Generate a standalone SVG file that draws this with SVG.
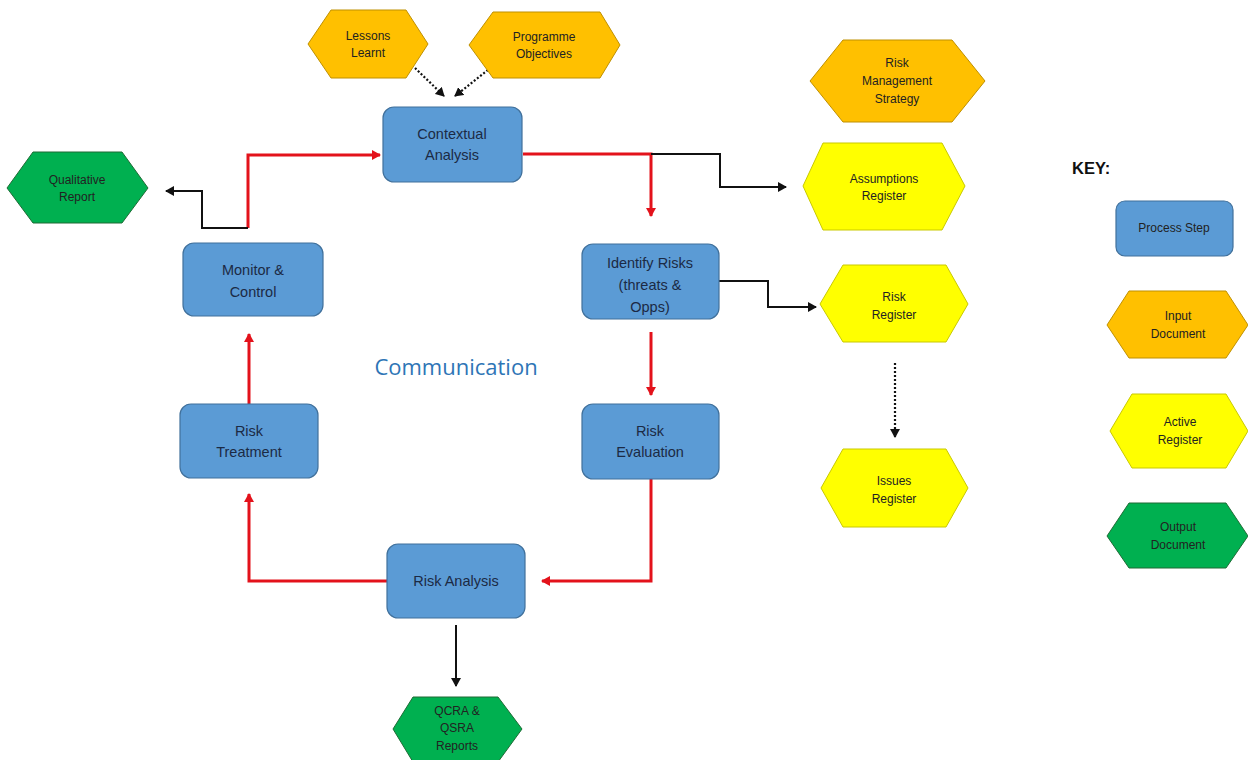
<svg xmlns="http://www.w3.org/2000/svg" width="1248" height="760" viewBox="0 0 1248 760">
<style>
.box{fill:#5B9BD5;stroke:#41719C;stroke-width:1.2}
.inp{fill:#FFC000;stroke:#BF9000;stroke-width:1}
.act{fill:#FFFF00;stroke:#C9C900;stroke-width:1}
.out{fill:#00B050;stroke:#1E6B35;stroke-width:1}
.bt{font-family:"Liberation Sans",Arial,sans-serif;font-size:14.5px;fill:#1B2A44;text-anchor:middle}
.ht{font-family:"Liberation Sans",Arial,sans-serif;font-size:12px;fill:#222;text-anchor:middle}
.red{fill:none;stroke:#E3121B;stroke-width:3}
.blk{fill:none;stroke:#111;stroke-width:2}
.dot{fill:none;stroke:#111;stroke-width:2.2;stroke-dasharray:2 2}
</style>
<defs>
<marker id="ar" markerWidth="10" markerHeight="10" refX="8" refY="5" orient="auto" markerUnits="userSpaceOnUse"><path d="M0,0 L9,5 L0,10 z" fill="#E3121B"/></marker>
<marker id="ab" markerWidth="10" markerHeight="10" refX="8" refY="5" orient="auto" markerUnits="userSpaceOnUse"><path d="M0,0 L9,5 L0,10 z" fill="#111"/></marker>
</defs>
<rect width="1248" height="760" fill="#fff"/>

<g id="connectors">
<path class="dot" d="M415,68 L444,96" marker-end="url(#ab)"/>
<path class="dot" d="M488,70 L455,96" marker-end="url(#ab)"/>
<path class="red" d="M248,228 L248,155 L380,155" marker-end="url(#ar)"/>
<path class="blk" d="M248,228 L202,228 L202,191 L166,191" marker-end="url(#ab)"/>
<path class="red" d="M523,154 L651,154 L651,216" marker-end="url(#ar)"/>
<path class="blk" d="M651,154 L720,154 L720,187 L786,187" marker-end="url(#ab)"/>
<path class="blk" d="M719,281 L768,281 L768,307 L816,307" marker-end="url(#ab)"/>
<path class="dot" d="M895,363 L895,437" marker-end="url(#ab)"/>
<path class="red" d="M651,332 L651,395" marker-end="url(#ar)"/>
<path class="red" d="M651,479 L651,581 L542,581" marker-end="url(#ar)"/>
<path class="red" d="M387,581 L249,581 L249,494" marker-end="url(#ar)"/>
<path class="red" d="M249,404 L249,334" marker-end="url(#ar)"/>
<path class="blk" d="M456,625 L456,686" marker-end="url(#ab)"/>
</g>

<g id="lessons-learnt"><polygon class="inp" points="308,44 331,10 406,10 428,44 406,78 331,78"/><text class="ht" x="368" y="40">Lessons</text><text class="ht" x="368" y="57">Learnt</text></g>
<g id="programme-objectives"><polygon class="inp" points="469,45 493,12 600,12 620,45 600,78 493,78"/><text class="ht" x="544" y="41">Programme</text><text class="ht" x="544" y="58">Objectives</text></g>
<g id="contextual-analysis"><rect class="box" x="383" y="107" width="139" height="75" rx="11"/><text class="bt" x="452" y="139">Contextual</text><text class="bt" x="452" y="160">Analysis</text></g>
<g id="risk-management-strategy"><polygon class="inp" points="810,81 843,40 952,40 985,81 952,122 843,122"/><text class="ht" x="897" y="67">Risk</text><text class="ht" x="897" y="85">Management</text><text class="ht" x="897" y="103">Strategy</text></g>
<g id="qualitative-report"><polygon class="out" points="7,188 33,152 122,152 148,188 122,223 33,223"/><text class="ht" x="77" y="184">Qualitative</text><text class="ht" x="77" y="201">Report</text></g>
<g id="monitor-control"><rect class="box" x="183" y="243" width="140" height="73" rx="11"/><text class="bt" x="253" y="275">Monitor &amp;</text><text class="bt" x="253" y="297">Control</text></g>
<g id="assumptions-register"><polygon class="act" points="803,186 823,143 942,143 965,186 942,230 823,230"/><text class="ht" x="884" y="183">Assumptions</text><text class="ht" x="884" y="200">Register</text></g>
<g id="identify-risks"><rect class="box" x="582" y="244" width="137" height="75" rx="11"/><text class="bt" x="650" y="268">Identify Risks</text><text class="bt" x="650" y="290">(threats &amp;</text><text class="bt" x="650" y="312">Opps)</text></g>
<g id="risk-register"><polygon class="act" points="820,304 843,265 946,265 968,304 946,342 843,342"/><text class="ht" x="894" y="301">Risk</text><text class="ht" x="894" y="319">Register</text></g>
<text id="communication" x="456" y="375" font-family="'Open Sans','Liberation Sans',sans-serif" font-size="22" fill="#2E75B6" text-anchor="middle">Communication</text>
<g id="risk-treatment"><rect class="box" x="180" y="404" width="138" height="74" rx="11"/><text class="bt" x="249" y="436">Risk</text><text class="bt" x="249" y="457">Treatment</text></g>
<g id="risk-evaluation"><rect class="box" x="582" y="404" width="137" height="75" rx="11"/><text class="bt" x="650" y="436">Risk</text><text class="bt" x="650" y="457">Evaluation</text></g>
<g id="issues-register"><polygon class="act" points="821,488 843,449 946,449 968,488 946,527 843,527"/><text class="ht" x="894" y="485">Issues</text><text class="ht" x="894" y="503">Register</text></g>
<g id="risk-analysis"><rect class="box" x="387" y="544" width="138" height="74" rx="11"/><text class="bt" x="456" y="586">Risk Analysis</text></g>
<g id="qcra-qsra"><polygon class="out" points="393,729 413,697 498,697 522,729 498,762 413,762"/><text class="ht" x="457" y="715">QCRA &amp;</text><text class="ht" x="457" y="732">QSRA</text><text class="ht" x="457" y="750">Reports</text></g>

<g id="key">
<text x="1072" y="174" font-family="'Liberation Sans',Arial,sans-serif" font-size="16.5" font-weight="bold" fill="#111">KEY:</text>
<g id="key-process"><rect class="box" x="1116" y="201" width="117" height="55" rx="9"/><text class="ht" x="1174" y="232">Process Step</text></g>
<g id="key-input"><polygon class="inp" points="1107,325 1129,291 1226,291 1248,325 1226,358 1129,358"/><text class="ht" x="1178" y="320">Input</text><text class="ht" x="1178" y="338">Document</text></g>
<g id="key-active"><polygon class="act" points="1110,431 1132,394 1226,394 1248,431 1226,468 1132,468"/><text class="ht" x="1180" y="426">Active</text><text class="ht" x="1180" y="444">Register</text></g>
<g id="key-output"><polygon class="out" points="1107,536 1129,503 1226,503 1248,536 1226,568 1129,568"/><text class="ht" x="1178" y="531">Output</text><text class="ht" x="1178" y="549">Document</text></g>
</g>
</svg>
